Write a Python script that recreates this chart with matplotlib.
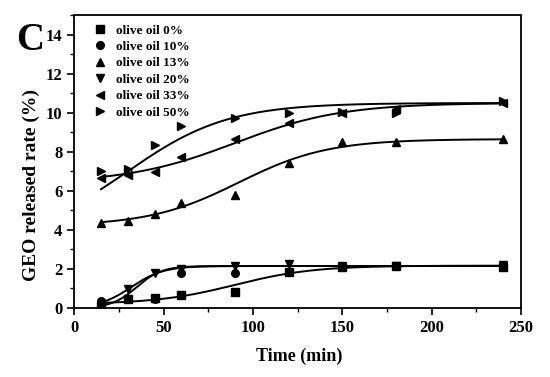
import numpy as np
import matplotlib.pyplot as plt
from matplotlib.ticker import MultipleLocator

plt.rcParams['font.family'] = ['Liberation Serif', 'DejaVu Serif']
plt.rcParams['font.weight'] = 'bold'

# sampling times (min)
time = [15, 30, 45, 60, 90, 120, 150, 180, 240]

labels = ['olive oil 0%', 'olive oil 10%', 'olive oil 13%',
          'olive oil 20%', 'olive oil 33%', 'olive oil 50%']
markers = ['s', 'o', '^', 'v', '<', '>']

# released rate (%)
oil_0 = [0.12, 0.45, 0.50, 0.67, 0.84, 1.85, 2.10, 2.15, 2.10]
oil_10 = [0.38, 0.48, 0.45, 1.81, 1.78, 1.82, 2.12, 2.15, 2.15]
oil_13 = [4.34, 4.43, 4.80, 5.37, 5.79, 7.45, 8.48, 8.48, 8.65]
oil_20 = [0.10, 0.97, 1.80, 2.00, 2.15, 2.26, 2.15, 2.17, 2.20]
oil_33 = [6.65, 6.82, 6.94, 7.71, 8.67, 9.45, 10.00, 10.20, 10.50]
oil_50 = [7.00, 7.11, 8.36, 9.33, 9.75, 10.00, 10.05, 10.00, 10.60]
series = [oil_0, oil_10, oil_13, oil_20, oil_33, oil_50]

# Boltzmann fit parameters (A1, A2, x0, dx) estimated from the drawn curves
fits = [
    (0.20, 2.17, 90, 22),
    (0.00, 2.15, 32, 9),
    (4.20, 8.65, 92, 25),
    (0.00, 2.15, 35, 7),
    (6.40, 10.50, 90, 30),
    (3.50, 10.50, 30, 28),
]


def boltzmann(x, a1, a2, x0, dx):
    return a2 + (a1 - a2) / (1 + np.exp((x - x0) / dx))


fig = plt.figure(figsize=(5.5, 3.77), dpi=100)
ax = fig.add_axes([0.135, 0.183, 0.812, 0.777])

xs = np.linspace(15, 240, 300)
for y, m, lab, p in zip(series, markers, labels, fits):
    ax.plot(time, y, linestyle='none', marker=m, color='black',
            markersize=5.5, label=lab)
    ax.plot(xs, boltzmann(xs, *p), color='black', lw=1.4)

ax.set_xlim(0, 250)
ax.set_ylim(0, 15)
ax.xaxis.set_major_locator(MultipleLocator(50))
ax.xaxis.set_minor_locator(MultipleLocator(25))
ax.yaxis.set_major_locator(MultipleLocator(2))
ax.yaxis.set_minor_locator(MultipleLocator(1))
ax.tick_params(which='major', direction='out', length=5, width=1.2,
               labelsize=12)
ax.tick_params(which='minor', direction='out', length=3, width=1.0)
for s in ax.spines.values():
    s.set_linewidth(1.3)

ax.set_xlabel('Time (min)', fontsize=13, fontweight='bold')
ax.set_ylabel('GEO released rate (%)', fontsize=14, fontweight='bold')
ax.xaxis.set_label_coords(0.504, -0.135)
ax.yaxis.set_label_coords(-0.076, 0.42)

ax.legend(loc='upper left', frameon=False, fontsize=9.5, handletextpad=0.6,
          labelspacing=0.32, borderaxespad=0.3, handlelength=1.2,
          bbox_to_anchor=(0.02, 1.0))

fig.text(0.03, 0.867, 'C', fontsize=28, fontweight='bold')

fig.savefig('out.png', dpi=100)
